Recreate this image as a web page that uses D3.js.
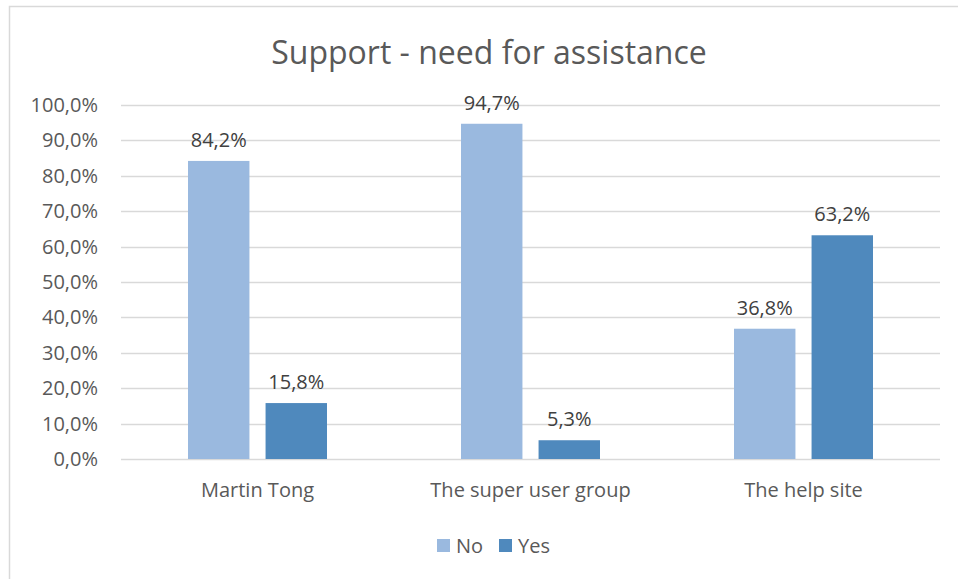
<!DOCTYPE html>
<html>
<head>
<meta charset="utf-8">
<script src="https://cdn.jsdelivr.net/npm/d3@7"></script>
<style>
  body { margin: 0; background: #fff; }
  svg { display: block; font-family: "Open Sans", "Noto Sans", sans-serif; }
</style>
</head>
<body>
<div id="chart"></div>
<script>
// Chart data
const categories = ["Martin Tong", "The super user group", "The help site"];
const seriesNames = ["No", "Yes"];
const noValues = [84.2, 94.7, 36.8];
const yesValues = [15.8, 5.3, 63.2];
const yTicks = [0, 10, 20, 30, 40, 50, 60, 70, 80, 90, 100];

const colors = { No: "#9ab9df", Yes: "#4f89bd" };

const width = 958;
const height = 579;
// plot area
const margin = { top: 105, right: 18, bottom: 120, left: 121 };
const plotW = width - margin.left - margin.right;
const plotH = height - margin.top - margin.bottom;

const svg = d3.select("#chart").append("svg")
  .attr("width", width)
  .attr("height", height);

// chart frame (only top and left are visible inside the window)
svg.append("path")
  .attr("d", `M9.5,${height} V6.5 H${width}`)
  .attr("fill", "none")
  .attr("stroke", "#d9d9d9")
  .attr("stroke-width", 1.5);

svg.append("text")
  .attr("x", 489)
  .attr("y", 64)
  .attr("text-anchor", "middle")
  .attr("fill", "#595959")
  .style("font-size", "32px")
  .text("Support - need for assistance");

const g = svg.append("g")
  .attr("transform", `translate(${margin.left},${margin.top})`);

const x = d3.scaleBand().domain(categories).range([0, plotW]);
const inner = d3.scaleBand().domain(seriesNames)
  .range([x.bandwidth() / 2 - 69.5, x.bandwidth() / 2 + 69.5])
  .paddingInner(16 / 77);
const y = d3.scaleLinear().domain([0, 100]).range([plotH, 0]);

const fmt = v => d3.format(".1f")(v).replace(".", ",") + "%";

// gridlines
g.append("g")
  .selectAll("line")
  .data(yTicks)
  .join("line")
  .attr("x1", 0)
  .attr("x2", plotW)
  .attr("y1", d => Math.round(y(d)) + 0.5)
  .attr("y2", d => Math.round(y(d)) + 0.5)
  .attr("stroke", "#d9d9d9")
  .attr("stroke-width", 1.3);

// y axis labels
const yAxis = g.append("g")
  .call(d3.axisLeft(y).tickValues(yTicks).tickSize(0).tickPadding(23).tickFormat(fmt));
yAxis.select(".domain").remove();
yAxis.selectAll("text")
  .attr("fill", "#595959")
  .style("font-size", "20px")
  .style("font-family", "'Open Sans', sans-serif");

// x axis labels
const xAxis = g.append("g")
  .attr("transform", `translate(0,${plotH})`)
  .call(d3.axisBottom(x).tickSize(0).tickPadding(24));
xAxis.select(".domain").remove();
xAxis.selectAll("text")
  .attr("fill", "#595959")
  .style("font-size", "20px")
  .style("font-family", "'Open Sans', sans-serif");

// bars
const rows = categories.map((c, i) => ({
  category: c,
  values: [
    { series: "No", value: noValues[i] },
    { series: "Yes", value: yesValues[i] }
  ]
}));

const groups = g.selectAll(".group")
  .data(rows)
  .join("g")
  .attr("class", "group")
  .attr("transform", d => `translate(${x(d.category)},0)`);

groups.selectAll("rect")
  .data(d => d.values)
  .join("rect")
  .attr("x", d => inner(d.series))
  .attr("width", inner.bandwidth())
  .attr("y", d => y(d.value))
  .attr("height", d => plotH - y(d.value))
  .attr("fill", d => colors[d.series]);

groups.selectAll(".label")
  .data(d => d.values)
  .join("text")
  .attr("class", "label")
  .attr("x", d => inner(d.series) + inner.bandwidth() / 2)
  .attr("y", d => y(d.value) - 14)
  .attr("text-anchor", "middle")
  .attr("fill", "#404040")
  .style("font-size", "20px")
  .text(d => fmt(d.value));

// legend
const legend = svg.append("g").attr("transform", "translate(437,539)");
const legendX = [0, 62];
seriesNames.forEach((s, i) => {
  const item = legend.append("g").attr("transform", `translate(${legendX[i]},0)`);
  item.append("rect")
    .attr("width", 13)
    .attr("height", 13)
    .attr("fill", colors[s]);
  item.append("text")
    .attr("x", 19)
    .attr("y", 13.5)
    .attr("fill", "#595959")
    .style("font-size", "20px")
    .text(s);
});
</script>
</body>
</html>
